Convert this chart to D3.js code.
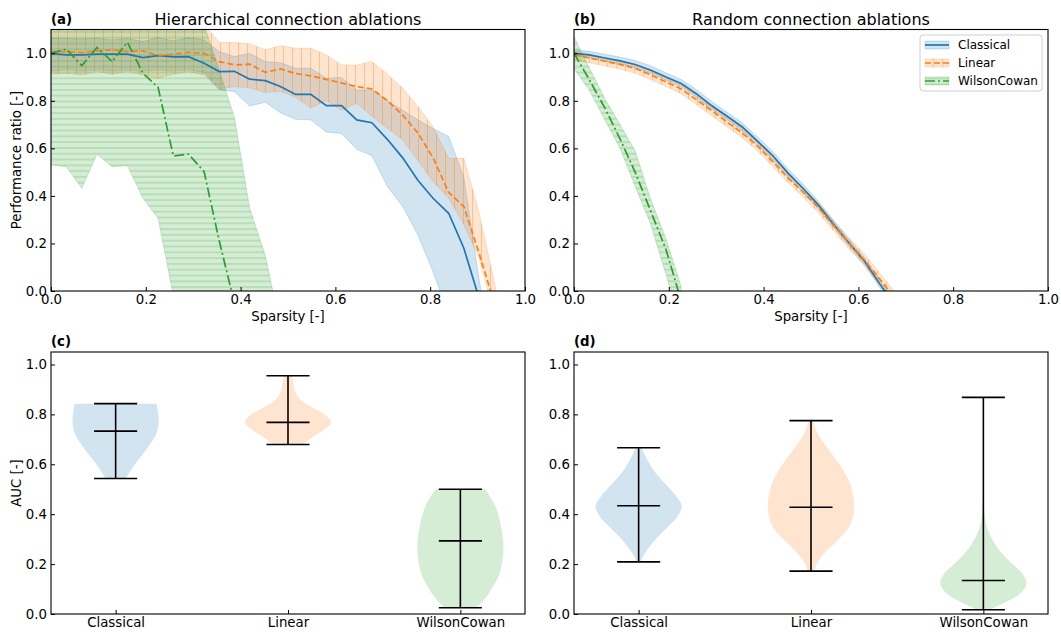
<!DOCTYPE html>
<html>
<meta charset="utf-8">
<head>
<style>
body { margin: 0; background: #fff; }
svg text { font-family: "DejaVu Sans", sans-serif; fill: #000; }
</style>
</head>
<body>
<svg width="1061" height="632"></svg>
<script src="https://cdn.jsdelivr.net/npm/d3@7/dist/d3.min.js"></script>
<script>

// sparsity grid (32 steps)
var sparsity = [0, 0.032, 0.065, 0.097, 0.129, 0.161, 0.194, 0.226, 0.258, 0.290, 0.323, 0.355, 0.387, 0.419, 0.452, 0.484,
                0.516, 0.548, 0.581, 0.613, 0.645, 0.677, 0.710, 0.742, 0.774, 0.806, 0.839, 0.871, 0.903, 0.935, 0.968, 1.0];

// (a) hierarchical ablations
var hierClassicalMean  = [1.0, 0.993, 0.993, 0.996, 0.996, 0.996, 0.982, 0.99, 0.985, 0.986, 0.958, 0.923, 0.924, 0.891, 0.885, 0.86,
                          0.827, 0.827, 0.78, 0.78, 0.72, 0.708, 0.637, 0.56, 0.466, 0.39, 0.327, 0.18, -0.03];
var hierClassicalUpper = [1.063, 1.063, 1.06, 1.063, 1.056, 1.063, 1.049, 1.066, 1.052, 1.066, 1.056, 1.007, 0.986, 1.0, 0.965, 0.96,
                          0.937, 0.937, 0.895, 0.898, 0.846, 0.846, 0.80, 0.76, 0.72, 0.684, 0.65, 0.48, 0.05, -0.3];
var hierClassicalLower = [0.925, 0.93, 0.925, 0.93, 0.925, 0.93, 0.925, 0.93, 0.925, 0.93, 0.92, 0.846, 0.839, 0.778, 0.794, 0.75,
                          0.722, 0.72, 0.668, 0.663, 0.596, 0.569, 0.439, 0.355, 0.236, 0.081, -0.1, -0.2, -0.2, -0.3];
var hierLinearMean  = [1.007, 1.007, 1.003, 1.01, 1.015, 1.007, 1.01, 0.99, 0.996, 1.004, 1.0, 0.965, 0.951, 0.954, 0.92, 0.934,
                       0.915, 0.905, 0.89, 0.875, 0.86, 0.85, 0.80, 0.74, 0.665, 0.56, 0.415, 0.355, 0.16, -0.05];
var hierLinearUpper = [1.12, 1.12, 1.12, 1.12, 1.12, 1.12, 1.12, 1.12, 1.12, 1.12, 1.12, 1.045, 1.045, 1.04, 1.015, 1.032,
                       1.021, 1.021, 0.993, 0.951, 0.951, 0.965, 0.912, 0.853, 0.776, 0.691, 0.558, 0.558, 0.33, 0.04, -0.3];
var hierLinearLower = [0.912, 0.916, 0.909, 0.923, 0.912, 0.923, 0.909, 0.895, 0.912, 0.923, 0.909, 0.85, 0.86, 0.855, 0.835, 0.84,
                       0.815, 0.77, 0.80, 0.76, 0.79, 0.735, 0.685, 0.635, 0.55, 0.46, 0.39, 0.28, 0.14, -0.1, -0.3];
var hierWCMean  = [1.0, 1.018, 0.948, 1.024, 0.965, 1.046, 0.916, 0.856, 0.568, 0.576, 0.502, 0.21, -0.05];
var hierWCUpper = [1.15, 1.15, 1.15, 1.15, 1.15, 1.15, 1.15, 1.15, 1.15, 1.15, 1.12, 0.93, 0.73, 0.35, 0.15, -0.15];
var hierWCLower = [0.53, 0.523, 0.432, 0.575, 0.523, 0.527, 0.39, 0.306, -0.02, -0.1, -0.1, -0.1, -0.1, -0.1, -0.1, -0.15];

// (b) random ablations
var randClassicalMean  = [1.0, 0.993, 0.98, 0.968, 0.953, 0.93, 0.90, 0.873, 0.83, 0.78, 0.735, 0.69, 0.63, 0.57, 0.495, 0.43,
                          0.36, 0.28, 0.20, 0.125, 0.03, -0.06];
var randClassicalUpper = [1.015, 1.008, 0.996, 0.984, 0.97, 0.948, 0.918, 0.89, 0.848, 0.798, 0.752, 0.708, 0.648, 0.588, 0.512, 0.448,
                          0.376, 0.296, 0.215, 0.14, 0.045, -0.045];
var randClassicalLower = [0.988, 0.981, 0.968, 0.955, 0.94, 0.917, 0.887, 0.86, 0.816, 0.766, 0.72, 0.675, 0.614, 0.553, 0.478, 0.414,
                          0.344, 0.265, 0.186, 0.11, 0.015, -0.075];
var randLinearMean  = [0.995, 0.98, 0.967, 0.953, 0.937, 0.91, 0.88, 0.85, 0.805, 0.76, 0.71, 0.665, 0.61, 0.545, 0.475, 0.415,
                       0.35, 0.275, 0.20, 0.13, 0.05, -0.03];
var randLinearUpper = [1.01, 0.995, 0.982, 0.968, 0.952, 0.926, 0.896, 0.866, 0.822, 0.777, 0.727, 0.682, 0.628, 0.563, 0.493, 0.433,
                       0.37, 0.296, 0.222, 0.155, 0.075, -0.005];
var randLinearLower = [0.975, 0.96, 0.947, 0.933, 0.917, 0.89, 0.86, 0.83, 0.785, 0.738, 0.69, 0.645, 0.59, 0.525, 0.455, 0.395,
                       0.328, 0.252, 0.176, 0.105, 0.025, -0.055];
var randWCMean  = [1.0, 0.89, 0.77, 0.64, 0.50, 0.34, 0.175, -0.04];
var randWCUpper = [1.07, 0.94, 0.81, 0.70, 0.59, 0.39, 0.22, 0.02];
var randWCLower = [0.935, 0.845, 0.72, 0.60, 0.44, 0.285, 0.07, -0.15];

// (c),(d) AUC violins
var categories = ["Classical", "Linear", "WilsonCowan"];
var aucHierMin  = [0.543, 0.679, 0.025];
var aucHierMean = [0.733, 0.768, 0.293];
var aucHierMax  = [0.843, 0.955, 0.50];
var aucRandMin  = [0.209, 0.172, 0.017];
var aucRandMean = [0.434, 0.428, 0.134];
var aucRandMax  = [0.666, 0.775, 0.868];

// violin outlines: AUC level / relative half-width
var hierClassicalKdeY = [0.543, 0.57, 0.60, 0.64, 0.68, 0.72, 0.765, 0.80, 0.843];
var hierClassicalKdeW = [0.23, 0.33, 0.45, 0.63, 0.8, 0.94, 1.0, 0.99, 0.95];
var hierLinearKdeY = [0.679, 0.70, 0.72, 0.74, 0.767, 0.79, 0.82, 0.85, 0.88, 0.91, 0.955];
var hierLinearKdeW = [0.35, 0.5, 0.68, 0.85, 1.0, 0.92, 0.66, 0.35, 0.2, 0.14, 0.1];
var hierWCKdeY = [0.025, 0.043, 0.096, 0.163, 0.27, 0.377, 0.444, 0.50];
var hierWCKdeW = [0.35, 0.48, 0.71, 0.91, 1.0, 0.91, 0.78, 0.57];
var randClassicalKdeY = [0.209, 0.223, 0.257, 0.297, 0.35, 0.39, 0.434, 0.47, 0.51, 0.564, 0.618, 0.666];
var randClassicalKdeW = [0.05, 0.08, 0.2, 0.38, 0.68, 0.9, 1.0, 0.88, 0.68, 0.4, 0.2, 0.07];
var randLinearKdeY = [0.172, 0.196, 0.243, 0.297, 0.35, 0.417, 0.51, 0.578, 0.644, 0.725, 0.775];
var randLinearKdeW = [0.08, 0.12, 0.31, 0.62, 0.89, 1.0, 0.93, 0.74, 0.47, 0.15, 0.05];
var randWCKdeY = [0.017, 0.03, 0.043, 0.083, 0.123, 0.163, 0.203, 0.27, 0.35, 0.42, 0.55, 0.868];
var randWCKdeW = [0.15, 0.3, 0.47, 0.86, 1.0, 0.9, 0.66, 0.31, 0.08, 0.02, 0.0, 0.0];

var colors = ["#1f77b4", "#ff7f0e", "#2ca02c"];
var FONT = "DejaVu Sans";

var svg = d3.select("svg");
var defs = svg.append("defs");

// hatches: '|' for Linear, '-' for WilsonCowan
defs.append("pattern").attr("id", "hatchV").attr("patternUnits", "userSpaceOnUse")
    .attr("width", 9).attr("height", 9)
  .append("line").attr("x1", 4.5).attr("x2", 4.5).attr("y1", 0).attr("y2", 9)
    .attr("stroke", colors[1]).attr("stroke-opacity", 0.35).attr("stroke-width", 1);
defs.append("pattern").attr("id", "hatchH").attr("patternUnits", "userSpaceOnUse")
    .attr("width", 9).attr("height", 5.8)
  .append("line").attr("x1", 0).attr("x2", 9).attr("y1", 2.9).attr("y2", 2.9)
    .attr("stroke", colors[2]).attr("stroke-opacity", 0.35).attr("stroke-width", 1);

var hatches = [null, "hatchV", "hatchH"];
var dashes = [null, "6,3", "10,3,2,3"];

function styleTicks(g) {
  g.select(".domain").remove();
  g.selectAll(".tick line").attr("stroke", "#000").attr("stroke-width", 1);
  g.selectAll("text").style("font-family", FONT).style("font-size", "13.3px").attr("fill", "#000");
}

function frame(x0, x1, y0, y1, id) {
  defs.append("clipPath").attr("id", id)
    .append("rect").attr("x", x0).attr("y", y1).attr("width", x1 - x0).attr("height", y0 - y1);
}

function border(x0, x1, y0, y1) {
  svg.append("rect").attr("x", x0).attr("y", y1).attr("width", x1 - x0).attr("height", y0 - y1)
    .attr("fill", "none").attr("stroke", "#000").attr("stroke-width", 1.1);
}

function lineChart(opts) {
  var x = d3.scaleLinear().domain([0, 1]).range([opts.x0, opts.x1]);
  var y = d3.scaleLinear().domain([0, 1.1]).range([291, 29.5]);
  frame(opts.x0, opts.x1, 291, 29.5, opts.id);

  var g = svg.append("g").attr("clip-path", "url(#" + opts.id + ")");

  var area = d3.area()
      .x(function(d) { return x(d.x); })
      .y0(function(d) { return y(d.lo); })
      .y1(function(d) { return y(d.hi); });
  var line = d3.line()
      .x(function(d) { return x(d.x); })
      .y(function(d) { return y(d.v); });

  // bands first
  opts.series.forEach(function(s, k) {
    var pts = s.lower.map(function(v, i) { return {x: sparsity[i], lo: v, hi: s.upper[i]}; });
    g.append("path").datum(pts).attr("d", area)
      .attr("fill", colors[k]).attr("fill-opacity", 0.2)
      .attr("stroke", colors[k]).attr("stroke-opacity", 0.2).attr("stroke-width", 1);
    if (hatches[k]) {
      g.append("path").datum(pts).attr("d", area).attr("fill", "url(#" + hatches[k] + ")");
    }
  });
  // then mean lines
  opts.series.forEach(function(s, k) {
    var pts = s.mean.map(function(v, i) { return {x: sparsity[i], v: v}; });
    g.append("path").datum(pts).attr("d", line)
      .attr("fill", "none").attr("stroke", colors[k]).attr("stroke-width", 1.7)
      .attr("stroke-dasharray", dashes[k]);
  });

  border(opts.x0, opts.x1, 291, 29.5);

  svg.append("g").attr("transform", "translate(0,291)")
    .call(d3.axisBottom(x).tickValues([0, 0.2, 0.4, 0.6, 0.8, 1.0]).tickFormat(d3.format(".1f"))
      .tickSize(-4).tickPadding(4))
    .call(styleTicks);
  svg.append("g").attr("transform", "translate(" + opts.x0 + ",0)")
    .call(d3.axisLeft(y).tickValues([0, 0.2, 0.4, 0.6, 0.8, 1.0]).tickFormat(d3.format(".1f"))
      .tickSize(-4).tickPadding(4))
    .call(styleTicks);

  svg.append("text").attr("x", (opts.x0 + opts.x1) / 2).attr("y", 321)
    .attr("text-anchor", "middle").style("font-size", "13.3px").text("Sparsity [-]");
  svg.append("text").attr("x", (opts.x0 + opts.x1) / 2).attr("y", 25)
    .attr("text-anchor", "middle").style("font-size", "16px").text(opts.title);
  svg.append("text").attr("x", opts.x0).attr("y", 24)
    .style("font-size", "13.3px").style("font-weight", "bold").text(opts.tag);
}

function violinChart(opts) {
  var x = d3.scaleLinear().domain([0.625, 3.375]).range([opts.x0, opts.x1]);
  var y = d3.scaleLinear().domain([0, 1.05]).range([614, 352]);

  opts.kde.forEach(function(p, k) {
    var pos = k + 1;
    var pts = p[0].map(function(v, i) { return {v: v, w: p[1][i]}; });
    var area = d3.area()
        .curve(d3.curveCatmullRom)
        .y(function(d) { return y(d.v); })
        .x0(function(d) { return x(pos - 0.25 * d.w); })
        .x1(function(d) { return x(pos + 0.25 * d.w); });
    svg.append("path").datum(pts).attr("d", area)
      .attr("fill", colors[k]).attr("fill-opacity", 0.2);
  });

  // min/max bars, caps and means
  var g = svg.append("g").attr("stroke", "#000").attr("stroke-width", 1.6);
  categories.forEach(function(c, k) {
    var pos = k + 1;
    g.append("line").attr("x1", x(pos)).attr("x2", x(pos))
      .attr("y1", y(opts.min[k])).attr("y2", y(opts.max[k]));
    [opts.min[k], opts.max[k], opts.mean[k]].forEach(function(v) {
      g.append("line").attr("x1", x(pos - 0.125)).attr("x2", x(pos + 0.125))
        .attr("y1", y(v)).attr("y2", y(v));
    });
  });

  border(opts.x0, opts.x1, 614, 352);

  svg.append("g").attr("transform", "translate(0,614)")
    .call(d3.axisBottom(x).tickValues([1, 2, 3]).tickFormat(function(d) { return categories[d - 1]; })
      .tickSize(-4).tickPadding(4))
    .call(styleTicks);
  svg.append("g").attr("transform", "translate(" + opts.x0 + ",0)")
    .call(d3.axisLeft(y).tickValues([0, 0.2, 0.4, 0.6, 0.8, 1.0]).tickFormat(d3.format(".1f"))
      .tickSize(-4).tickPadding(4))
    .call(styleTicks);

  svg.append("text").attr("x", opts.x0).attr("y", 346)
    .style("font-size", "13.3px").style("font-weight", "bold").text(opts.tag);
}

lineChart({
  id: "clipA", x0: 51, x1: 525, tag: "(a)", title: "Hierarchical connection ablations",
  series: [
    {mean: hierClassicalMean, upper: hierClassicalUpper, lower: hierClassicalLower},
    {mean: hierLinearMean, upper: hierLinearUpper, lower: hierLinearLower},
    {mean: hierWCMean, upper: hierWCUpper, lower: hierWCLower}
  ]
});

lineChart({
  id: "clipB", x0: 574, x1: 1048, tag: "(b)", title: "Random connection ablations",
  series: [
    {mean: randClassicalMean, upper: randClassicalUpper, lower: randClassicalLower},
    {mean: randLinearMean, upper: randLinearUpper, lower: randLinearLower},
    {mean: randWCMean, upper: randWCUpper, lower: randWCLower}
  ]
});

violinChart({
  x0: 51, x1: 525, tag: "(c)",
  min: aucHierMin, mean: aucHierMean, max: aucHierMax,
  kde: [[hierClassicalKdeY, hierClassicalKdeW], [hierLinearKdeY, hierLinearKdeW], [hierWCKdeY, hierWCKdeW]]
});

violinChart({
  x0: 574, x1: 1048, tag: "(d)",
  min: aucRandMin, mean: aucRandMean, max: aucRandMax,
  kde: [[randClassicalKdeY, randClassicalKdeW], [randLinearKdeY, randLinearKdeW], [randWCKdeY, randWCKdeW]]
});

// y labels
svg.append("text").attr("transform", "translate(21,160) rotate(-90)")
  .attr("text-anchor", "middle").style("font-size", "13.3px").text("Performance ratio [-]");
svg.append("text").attr("transform", "translate(21,483) rotate(-90)")
  .attr("text-anchor", "middle").style("font-size", "13.3px").text("AUC [-]");

// legend in (b)
var legend = svg.append("g").attr("transform", "translate(920,35)");
legend.append("rect").attr("width", 122).attr("height", 56).attr("rx", 3)
  .attr("fill", "#fff").attr("fill-opacity", 0.8).attr("stroke", "#d0d0d0");
categories.forEach(function(c, k) {
  var row = 10 + k * 18;
  legend.append("rect").attr("x", 5).attr("y", row - 4).attr("width", 24).attr("height", 8)
    .attr("fill", colors[k]).attr("fill-opacity", 0.2)
    .attr("stroke", colors[k]).attr("stroke-opacity", 0.2);
  if (hatches[k]) {
    legend.append("rect").attr("x", 5).attr("y", row - 4).attr("width", 24).attr("height", 8)
      .attr("fill", "url(#" + hatches[k] + ")");
  }
  legend.append("line").attr("x1", 5).attr("x2", 29).attr("y1", row).attr("y2", row)
    .attr("stroke", colors[k]).attr("stroke-width", 1.7).attr("stroke-dasharray", dashes[k]);
  legend.append("text").attr("x", 38).attr("y", row + 4.3)
    .style("font-size", "12px").text(c);
});

</script>
</body>
</html>
